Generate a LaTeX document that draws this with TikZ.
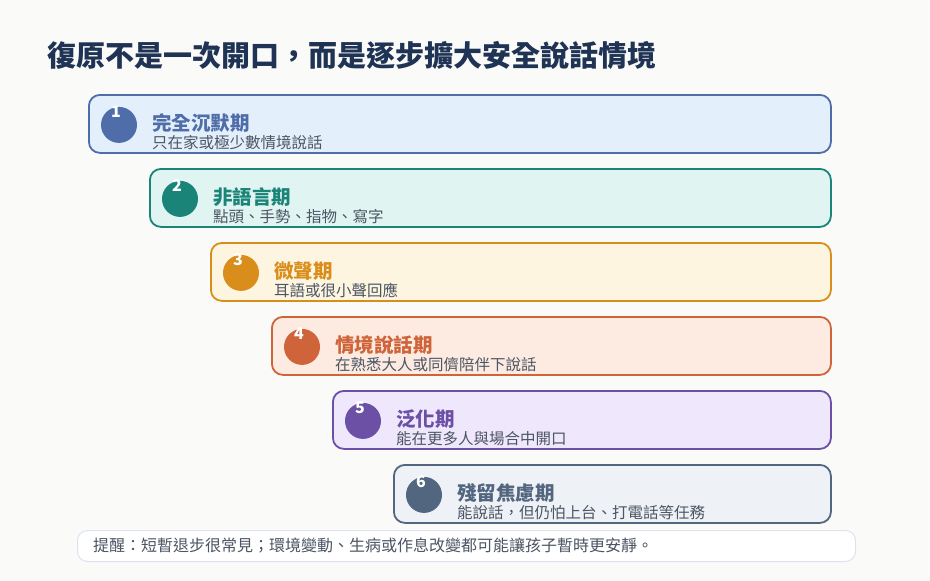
\documentclass[tikz,border=0pt]{standalone}
\usepackage{fontspec}
\setmainfont{Noto Sans CJK TC}
\usetikzlibrary{positioning}
\definecolor{bgpaper}{HTML}{FAFAF8}
\definecolor{titleink}{HTML}{1F3354}
\definecolor{subink}{HTML}{4B5563}
\definecolor{footline}{HTML}{DCE3EE}
\definecolor{stageA}{HTML}{4F6EA9}
\definecolor{stageAbg}{HTML}{E4EFFC}
\definecolor{stageB}{HTML}{1B8478}
\definecolor{stageBbg}{HTML}{E0F4F1}
\definecolor{stageC}{HTML}{D98E1C}
\definecolor{stageCbg}{HTML}{FEF5E1}
\definecolor{stageD}{HTML}{CF643A}
\definecolor{stageDbg}{HTML}{FDEBE1}
\definecolor{stageE}{HTML}{6B50A6}
\definecolor{stageEbg}{HTML}{EFE7FB}
\definecolor{stageF}{HTML}{526680}
\definecolor{stageFbg}{HTML}{EEF2F6}
\tikzset{
  stagebox/.style 2 args={draw=#1,fill=#2,line width=1.8pt,rounded corners=11pt,
    minimum height=58pt,anchor=north west,inner sep=0pt},
  stagedot/.style={circle,fill=#1,minimum size=36pt,inner sep=0pt},
  stagenum/.style={text=white,font=\bfseries\fontsize{16}{16}\selectfont,inner sep=0pt},
  stagetitle/.style={text=#1,font=\bfseries\fontsize{19.5}{20}\selectfont,
    anchor=base west,inner sep=0pt},
  stagenote/.style={text=subink,font=\fontsize{15.5}{16}\selectfont,
    anchor=base west,inner sep=0pt}
}

\begin{document}
\begin{tikzpicture}[x=1pt,y=-1pt]
  \fill[bgpaper] (0,0) rectangle (930,581);
  \useasboundingbox (0,0) rectangle (930,581);
  \node[anchor=west,inner sep=0pt,text=titleink,font=\bfseries\fontsize{29}{32}\selectfont]
    (head) at (47,55) {復原不是一次開口，而是逐步擴大安全說話情境};

  \node[stagebox={stageA}{stageAbg},minimum width=742pt] (s1) at (88,94) {};
  \node[stagedot=stageA] (d1) at ([xshift=31pt,yshift=-1pt]s1.west) {};
  \node[stagenum] (n1) at ([xshift=-3pt,yshift=13pt]d1.center) {1};
  \node[stagetitle=stageA] (t1) at ([xshift=64pt,yshift=-36.5pt]s1.north west) {完全沉默期};
  \node[stagenote] (m1) at ([xshift=64pt,yshift=-54pt]s1.north west) {只在家或極少數情境說話};

  \node[stagebox={stageB}{stageBbg},minimum width=681pt] (s2) at (149,168) {};
  \node[stagedot=stageB] (d2) at ([xshift=31pt,yshift=-1pt]s2.west) {};
  \node[stagenum] (n2) at ([xshift=-3pt,yshift=13pt]d2.center) {2};
  \node[stagetitle=stageB] (t2) at ([xshift=64pt,yshift=-36.5pt]s2.north west) {非語言期};
  \node[stagenote] (m2) at ([xshift=64pt,yshift=-54pt]s2.north west) {點頭、手勢、指物、寫字};

  \node[stagebox={stageC}{stageCbg},minimum width=620pt] (s3) at (210,242) {};
  \node[stagedot=stageC] (d3) at ([xshift=31pt,yshift=-1pt]s3.west) {};
  \node[stagenum] (n3) at ([xshift=-3pt,yshift=13pt]d3.center) {3};
  \node[stagetitle=stageC] (t3) at ([xshift=64pt,yshift=-36.5pt]s3.north west) {微聲期};
  \node[stagenote] (m3) at ([xshift=64pt,yshift=-54pt]s3.north west) {耳語或很小聲回應};

  \node[stagebox={stageD}{stageDbg},minimum width=559pt] (s4) at (271,316) {};
  \node[stagedot=stageD] (d4) at ([xshift=31pt,yshift=-1pt]s4.west) {};
  \node[stagenum] (n4) at ([xshift=-3pt,yshift=13pt]d4.center) {4};
  \node[stagetitle=stageD] (t4) at ([xshift=64pt,yshift=-36.5pt]s4.north west) {情境說話期};
  \node[stagenote] (m4) at ([xshift=64pt,yshift=-54pt]s4.north west) {在熟悉大人或同儕陪伴下說話};

  \node[stagebox={stageE}{stageEbg},minimum width=498pt] (s5) at (332,390) {};
  \node[stagedot=stageE] (d5) at ([xshift=31pt,yshift=-1pt]s5.west) {};
  \node[stagenum] (n5) at ([xshift=-3pt,yshift=13pt]d5.center) {5};
  \node[stagetitle=stageE] (t5) at ([xshift=64pt,yshift=-36.5pt]s5.north west) {泛化期};
  \node[stagenote] (m5) at ([xshift=64pt,yshift=-54pt]s5.north west) {能在更多人與場合中開口};

  \node[stagebox={stageF}{stageFbg},minimum width=437pt] (s6) at (393,464) {};
  \node[stagedot=stageF] (d6) at ([xshift=31pt,yshift=-1pt]s6.west) {};
  \node[stagenum] (n6) at ([xshift=-3pt,yshift=13pt]d6.center) {6};
  \node[stagetitle=stageF] (t6) at ([xshift=64pt,yshift=-36.5pt]s6.north west) {殘留焦慮期};
  \node[stagenote] (m6) at ([xshift=64pt,yshift=-54pt]s6.north west) {能說話，但仍怕上台、打電話等任務};

  \node[draw=footline,fill=white,line width=1pt,rounded corners=10pt,minimum width=778pt,
    minimum height=31pt,anchor=north west,inner sep=0pt] (tip) at (77,530) {};
  \node[anchor=west,inner sep=0pt,text=subink,font=\fontsize{16}{18}\selectfont]
    (tiptext) at ([xshift=16pt]tip.west) {提醒：短暫退步很常見；環境變動、生病或作息改變都可能讓孩子暫時更安靜。};
\end{tikzpicture}
\end{document}
